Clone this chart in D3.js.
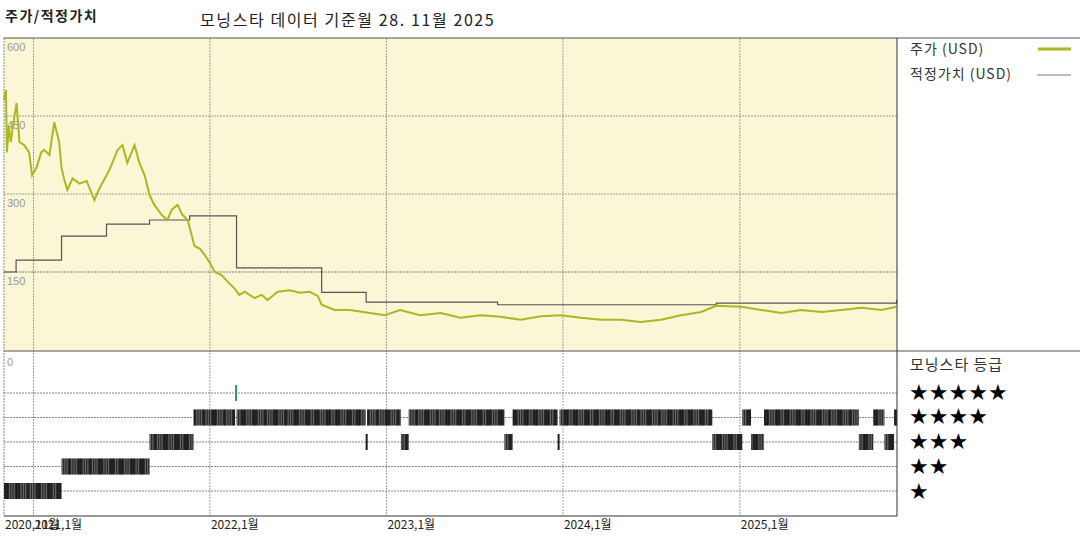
<!DOCTYPE html>
<html><head><meta charset="utf-8">
<script src="https://cdn.jsdelivr.net/npm/d3@7"></script>
<style>body{margin:0;background:#fff}svg{display:block;font-family:"Noto Sans CJK KR","DejaVu Sans",sans-serif}</style>
</head><body><svg id="c" width="1080" height="540"></svg>
<script>
const priceDates=["2020-11-01","2020-11-05","2020-11-07","2020-11-11","2020-11-15","2020-11-21","2020-11-27","2020-12-03","2020-12-13","2020-12-23","2020-12-29","2021-01-07","2021-01-17","2021-01-23","2021-02-03","2021-02-13","2021-02-23","2021-02-28","2021-03-06","2021-03-12","2021-03-23","2021-04-06","2021-04-21","2021-05-07","2021-05-17","2021-06-07","2021-06-24","2021-07-04","2021-07-14","2021-07-29","2021-08-08","2021-08-19","2021-08-29","2021-09-08","2021-09-23","2021-10-05","2021-10-14","2021-10-26","2021-11-05","2021-11-16","2021-11-24","2021-11-30","2021-12-11","2021-12-21","2021-12-31","2022-01-11","2022-01-25","2022-02-07","2022-02-21","2022-03-03","2022-03-14","2022-04-03","2022-04-18","2022-04-30","2022-05-21","2022-06-15","2022-07-06","2022-07-26","2022-08-12","2022-08-20","2022-09-16","2022-10-17","2022-11-28","2022-12-29","2023-01-29","2023-03-12","2023-04-23","2023-06-03","2023-07-15","2023-08-25","2023-10-06","2023-11-16","2023-12-28","2024-02-07","2024-03-20","2024-04-30","2024-06-10","2024-07-22","2024-09-01","2024-10-13","2024-11-13","2025-01-04","2025-02-14","2025-03-28","2025-05-08","2025-06-19","2025-07-30","2025-09-10","2025-10-21","2025-11-21"];
const priceValues=[480,500,380,430,400,440,475,400,394,380,336,350,380,385,375,438,400,350,327,308,330,320,325,288,310,346,385,394,360,394,360,336,298,279,260,250,270,279,260,250,221,200,195,183,169,150,144,131,118,106,112,100,106,96,112,115,110,112,104,87,77,77,71,67,77,67,71,62,67,64,58,65,67,62,58,58,54,58,67,73,85,83,77,71,77,73,77,81,77,83];
const fairDates=["2020-11-01","2020-11-26","2021-02-28","2021-06-01","2021-08-29","2021-11-20","2022-02-25","2022-08-20","2022-11-20","2023-08-19","2024-11-13","2025-11-21"];
const fairValues=[150,173,219,242,250,258,158,111,92,87,90,96];
const ratingStart=["2020-11-01","2021-02-28","2021-08-29","2021-11-28","2022-02-22","2022-02-25","2022-11-19","2022-11-22","2023-01-31","2023-02-16","2023-09-02","2023-09-19","2023-12-21","2023-12-25","2024-11-05","2025-01-06","2025-01-24","2025-02-20","2025-09-04","2025-10-04","2025-10-27","2025-11-16"];
const ratingEnd=  ["2021-02-28","2021-08-29","2021-11-28","2022-02-22","2022-02-25","2022-11-19","2022-11-22","2023-01-31","2023-02-16","2023-09-02","2023-09-19","2023-12-21","2023-12-25","2024-11-05","2025-01-06","2025-01-24","2025-02-20","2025-09-04","2025-10-04","2025-10-27","2025-11-16","2025-11-22"];
const ratingStars=[1,2,3,4,5,4,3,4,3,4,3,4,3,4,3,4,3,4,3,4,3,4];
const yTicks=[600,450,300,150];
const xTickDates=["2020-11-01","2021-01-01","2022-01-01","2023-01-01","2024-01-01","2025-01-01"];
const xTickLabels=["2020,11월","2021,1월","2022,1월","2023,1월","2024,1월","2025,1월"];
const legendStars=["★★★★★","★★★★","★★★","★★","★"];

const P=d3.timeParse("%Y-%m-%d");
const svg=d3.select("#c");
const L=4,R=897,T=38,M=351,B=516;
const x=d3.scaleTime().domain([P("2020-11-01"),P("2025-11-22")]).range([L,R]);
const y=d3.scaleLinear().domain([0,600]).range([M-1,T]);
const yr=d3.scaleLinear().domain([1,5]).range([491,393]);

svg.append("rect").attr("x",L).attr("y",T).attr("width",R-L).attr("height",M-T).attr("fill","#faf6d6");
const gl="#888";
svg.append("g").selectAll("line").data(yTicks.slice(1)).join("line").attr("x1",L).attr("x2",R).attr("y1",d=>y(d)).attr("y2",d=>y(d)).attr("stroke",d=>d==150?"#555":gl).attr("stroke-dasharray","2,1").attr("stroke-width",0.8);
svg.append("g").selectAll("line").data([1,2,3,4,5]).join("line").attr("x1",L).attr("x2",R).attr("y1",d=>yr(d)).attr("y2",d=>yr(d)).attr("stroke","#666").attr("stroke-dasharray","2,1").attr("stroke-width",0.8);
svg.append("g").selectAll("line").data(xTickDates.slice(1)).join("line").attr("x1",d=>x(P(d))).attr("x2",d=>x(P(d))).attr("y1",T).attr("y2",B).attr("stroke",gl).attr("stroke-dasharray","2,1").attr("stroke-width",0.8);
svg.append("line").attr("x1",L).attr("x2",L).attr("y1",T).attr("y2",B).attr("stroke",gl).attr("stroke-dasharray","2,1");
svg.append("g").selectAll("text").data(yTicks.concat([0])).join("text").attr("x",L+3).attr("y",d=>d==0?366:y(d)+13).text(d=>d).attr("font-size",11).attr("fill","#999").attr("font-family","Liberation Sans");
const rg=svg.append("g");
ratingStars.forEach((s,i)=>{
  const x0=x(P(ratingStart[i])),x1=Math.max(x(P(ratingEnd[i])),x0+2);
  const cy=yr(s);
  const col=s==5?"#3a8a6a":"#2a2a2a";
  rg.append("rect").attr("x",x0).attr("y",cy-8).attr("width",x1-x0).attr("height",16).attr("fill",col);
  if(s!=5) for(let xx=x0+1;xx<x1-0.5;xx+=2.3) rg.append("line").attr("x1",xx).attr("x2",xx).attr("y1",cy-8).attr("y2",cy+8).attr("stroke",((xx*7)%5)<2?"#111":"#888").attr("stroke-width",0.7);
});
svg.append("path").datum(fairDates.map((d,i)=>[P(d),fairValues[i]])).attr("d",d3.line().x(d=>x(d[0])).y(d=>y(d[1])).curve(d3.curveStepAfter)).attr("fill","none").attr("stroke","#555").attr("stroke-width",1.2);
svg.append("path").datum(priceDates.map((d,i)=>[P(d),priceValues[i]])).attr("d",d3.line().x(d=>x(d[0])).y(d=>y(d[1]))).attr("fill","none").attr("stroke","#a9b823").attr("stroke-width",2);
svg.append("line").attr("x1",L).attr("x2",1080).attr("y1",T).attr("y2",T).attr("stroke","#555");
svg.append("line").attr("x1",L).attr("x2",1080).attr("y1",M).attr("y2",M).attr("stroke","#555");
svg.append("line").attr("x1",R).attr("x2",R).attr("y1",T).attr("y2",B).attr("stroke","#333");
svg.append("line").attr("x1",L).attr("x2",R).attr("y1",B).attr("y2",B).attr("stroke","#333");
svg.append("g").selectAll("text").data(xTickDates).join("text").attr("x",d=>x(P(d))+1).attr("y",529).text((d,i)=>xTickLabels[i]).attr("font-size",12).attr("fill","#222");
svg.append("text").attr("x",5).attr("y",21).text("주가/적정가치").attr("font-size",14).attr("font-weight","bold").attr("letter-spacing",1.5).attr("fill","#222");
svg.append("text").attr("x",200).attr("y",26).text("모닝스타 데이터 기준월 28. 11월 2025").attr("font-size",16).attr("letter-spacing",1.6).attr("fill","#222");
svg.append("text").attr("x",910).attr("y",54).text("주가 (USD)").attr("font-size",14).attr("letter-spacing",1).attr("fill","#333");
svg.append("line").attr("x1",1038).attr("x2",1071).attr("y1",49).attr("y2",49).attr("stroke","#a9b823").attr("stroke-width",3);
svg.append("text").attr("x",910).attr("y",79).text("적정가치 (USD)").attr("font-size",14).attr("letter-spacing",1).attr("fill","#333");
svg.append("line").attr("x1",1037).attr("x2",1071).attr("y1",75).attr("y2",75).attr("stroke","#777").attr("stroke-width",1);
svg.append("text").attr("x",910).attr("y",370).text("모닝스타 등급").attr("font-size",15).attr("letter-spacing",1).attr("fill","#333");
svg.append("g").selectAll("text").data(legendStars).join("text").attr("x",909).attr("y",(d,i)=>[400,424,449,474,499][i]).text(d=>d).attr("font-size",22).attr("fill","#000").attr("font-family","DejaVu Sans");
</script></body></html>
